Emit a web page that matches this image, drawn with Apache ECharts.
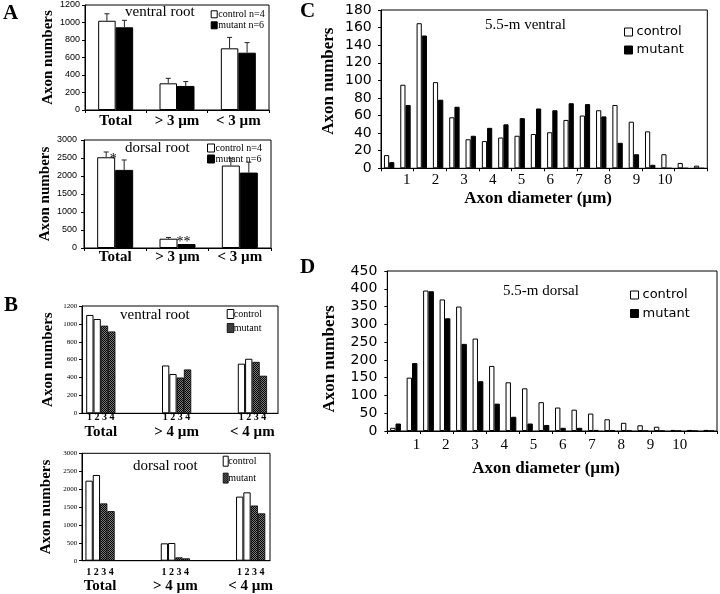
<!DOCTYPE html>
<html><head><meta charset="utf-8">
<script src="https://cdn.jsdelivr.net/npm/echarts@6/dist/echarts.min.js"></script>
<style>html,body{margin:0;padding:0;background:#fff}#c{width:720px;height:594px}</style>
</head><body><div id="c"></div>
<script>
// ---------------- DATA ----------------
const aCats = ['Total', '> 3 µm', '< 3 µm'];
const aVentralControl = [1020, 305, 705];
const aVentralControlErr = [80, 57, 125];
const aVentralMutant = [945, 275, 655];
const aVentralMutantErr = [80, 50, 115];
const aDorsalControl = [2520, 258, 2290];
const aDorsalControlErr = [147, 36, 203];
const aDorsalMutant = [2170, 110, 2095];
const aDorsalMutantErr = [275, 0, 287];
const aDorsalSig = ['*', '**', ''];

const bCats = ['Total', '> 4 µm', '< 4 µm'];
const bAnimals = ['1', '2', '3', '4'];
const bVentral1 = [1100, 535, 555];
const bVentral2 = [1055, 440, 610];
const bVentral3 = [980, 400, 575];
const bVentral4 = [915, 490, 420];
const bDorsal1 = [2235, 485, 1790];
const bDorsal2 = [2395, 495, 1910];
const bDorsal3 = [1600, 93, 1540];
const bDorsal4 = [1385, 65, 1322];

const diamBins = ['0.5','1','1.5','2','2.5','3','3.5','4','4.5','5','5.5','6','6.5','7','7.5','8','8.5','9','9.5','10'];
const diamTicks = [1, 2, 3, 4, 5, 6, 7, 8, 9, 10];
const cControl = [15, 95, 165, 98, 58, 33, 31, 35, 37, 39, 41, 55, 60, 66, 72, 53, 42, 16, 6, 3];
const cMutant  = [7, 72, 151, 78, 70, 37, 46, 50, 57, 68, 66, 74, 73, 59, 29, 16, 4, 0, 0, 0];
const dControl = [9, 150, 395, 370, 350, 260, 183, 137, 120, 81, 66, 60, 49, 33, 23, 16, 12, 3, 3, 3];
const dMutant  = [21, 191, 393, 317, 245, 140, 77, 40, 21, 17, 9, 9, 3, 2, 1, 0, 0, 0, 0, 0];

// ---------------- STYLE ----------------
const SERIF = '"Liberation Serif", "Times New Roman", serif';
const SANS = '"Liberation Sans", Arial, sans-serif';
const DJV = '"DejaVu Sans", sans-serif';
const BLACK = '#000';

function makeHatch() {
  const c = document.createElement('canvas');
  c.width = 2; c.height = 2;
  const g = c.getContext('2d');
  g.fillStyle = '#7a7a7a'; g.fillRect(0, 0, 2, 2);
  g.fillStyle = '#000'; g.fillRect(0, 0, 1, 1); g.fillRect(1, 1, 1, 1);
  return c;
}
const hatch = { image: makeHatch(), repeat: 'repeat' };

const whiteStyle = { color: '#fff', borderColor: BLACK, borderWidth: 1 };
const blackStyle = { color: '#000', borderColor: BLACK, borderWidth: 1 };
const hatchStyle = { color: hatch, borderColor: BLACK, borderWidth: 0.8 };

function grid(left, top, width, height, show) {
  return { left, top, width, height, show: !!show, borderColor: BLACK, borderWidth: 1,
           backgroundColor: 'transparent', containLabel: false, outerBoundsMode: 'none' };
}
const grids = [
  grid(85, 5, 184, 105, true),        // 0 A ventral
  grid(84, 140, 187, 108, true),      // 1 A dorsal
  grid(82, 306, 196, 107.3, true),    // 2 B ventral box
  grid(62.9, 306, 227.4, 107.3),      // 3 B ventral bars
  grid(82, 453.3, 188, 107.4, true),  // 4 B dorsal box
  grid(62.4, 453.3, 225.9, 107.4),    // 5 B dorsal bars
  grid(381, 10, 326.3, 158.3, true),  // 6 C
  grid(381, 10, 326.3, 158.3),        // 7 C diameter labels
  grid(387.3, 271, 329.7, 160, true), // 8 D
  grid(387.3, 271, 329.7, 160)        // 9 D diameter labels
];

const plain = (v) => String(v);
const yName = (size) => ({ fontFamily: SERIF, fontWeight: 'bold', fontSize: size, color: BLACK });
function valueY(gi, max, interval, labelFont, nameGap, nameSize, margin, namePad) {
  return {
    type: 'value', gridIndex: gi, min: 0, max, interval,
    axisLine: { show: true, lineStyle: { color: BLACK, width: 1 } },
    axisTick: { show: true, length: 3, lineStyle: { color: BLACK } },
    splitLine: { show: false },
    axisLabel: Object.assign({ color: BLACK, margin, formatter: plain }, labelFont),
    name: 'Axon numbers', nameLocation: 'middle', nameGap,
    nameTextStyle: Object.assign(yName(nameSize), { padding: namePad || 0 })
  };
}
function hiddenY(gi, max) { return { type: 'value', gridIndex: gi, min: 0, max, show: false }; }

const catXA = (gi, margin) => ({
  type: 'category', gridIndex: gi, data: aCats,
  axisLine: { show: true, lineStyle: { color: BLACK } },
  axisTick: { show: true, length: 3, lineStyle: { color: BLACK } },
  axisLabel: { interval: 0, margin, fontFamily: SERIF, fontWeight: 'bold', fontSize: 15, color: BLACK }
});
const boxX = (gi) => ({
  type: 'value', gridIndex: gi, min: 0, max: 1,
  axisLine: { show: true, lineStyle: { color: BLACK } },
  axisTick: { show: false }, axisLabel: { show: false }, splitLine: { show: false }
});
const barsXB = (gi, margin, catLH) => ({
  type: 'category', gridIndex: gi, data: bCats,
  axisLine: { show: false }, axisTick: { show: false }, splitLine: { show: false },
  axisLabel: {
    interval: 0, margin,
    formatter: (v) => '{n|' + bAnimals.join(' ') + '}\n{c|' + v + '}',
    rich: {
      n: { fontFamily: SERIF, fontWeight: 'bold', fontSize: 10, lineHeight: 9, color: BLACK },
      c: { fontFamily: SERIF, fontWeight: 'bold', fontSize: 15, lineHeight: catLH, color: BLACK }
    }
  }
});
const binX = (gi) => ({
  type: 'category', gridIndex: gi, data: diamBins,
  axisLine: { show: true, lineStyle: { color: BLACK } },
  axisTick: { show: true, length: 3, lineStyle: { color: BLACK } },
  axisLabel: { show: false }
});
const diamX = (gi, min, max, margin, nameGap) => ({
  type: 'value', gridIndex: gi, min, max,
  axisLine: { show: false }, axisTick: { show: false }, splitLine: { show: false },
  axisLabel: { customValues: diamTicks, margin, fontFamily: SERIF, fontSize: 15, color: BLACK },
  name: 'Axon diameter (µm)', nameLocation: 'middle', nameGap,
  nameTextStyle: { fontFamily: SERIF, fontWeight: 'bold', fontSize: 17, color: BLACK, padding: [0, 12, 0, 0] }
});

function errBars(xi, yi, vals, errs, dx) {
  return {
    type: 'custom', xAxisIndex: xi, yAxisIndex: yi, z: 3, silent: true,
    data: vals.map((v, i) => [i, v, v + errs[i]]),
    encode: { x: 0, y: [1, 2] },
    renderItem: (params, api) => {
      const base = api.coord([api.value(0), api.value(1)]);
      const top = api.coord([api.value(0), api.value(2)]);
      if (Math.abs(base[1] - top[1]) < 0.5) return null;
      const x = base[0] + dx;
      const st = { stroke: '#222', lineWidth: 1 };
      return { type: 'group', children: [
        { type: 'line', shape: { x1: x, y1: base[1], x2: x, y2: top[1] }, style: st },
        { type: 'line', shape: { x1: x - 2.5, y1: top[1], x2: x + 2.5, y2: top[1] }, style: st }
      ] };
    }
  };
}
const sigOffsets = [[-11, 0], [-3, 9], [0, 0]];

function bar(name, xi, yi, data, width, style) {
  return { type: 'bar', name, xAxisIndex: xi, yAxisIndex: yi, data, barWidth: width, barGap: '0%',
           itemStyle: style, silent: true };
}

const legendText = (font, size, lh, pad) => ({ fontFamily: font, fontSize: size, lineHeight: lh, color: BLACK, padding: pad });
const stripPrefix = (n) => n.replace(/^[A-D]:/, '');
function legend(names, styles, left, top, iw, ih, gap, textStyle) {
  return {
    orient: 'vertical', left, top, padding: 0, itemWidth: iw, itemHeight: ih, itemGap: gap,
    icon: 'rect', selectedMode: false, formatter: stripPrefix, textStyle,
    data: names.map((n, i) => ({ name: n, icon: 'rect', itemStyle: styles[i] }))
  };
}

const titleStyle = (size, bold) => ({ fontFamily: SERIF, fontSize: size, fontWeight: bold ? 'bold' : 'normal', color: BLACK });
const title = (text, left, top, size, bold) => ({ text, left, top, padding: 0, textStyle: titleStyle(size, bold) });

const option = {
  animation: false,
  backgroundColor: '#fff',
  grid: grids,
  title: [
    title('A', 3, 3, 21, true),
    title('B', 4, 295, 21, true),
    title('C', 300, 1, 21, true),
    title('D', 300, 257, 21, true),
    title('ventral root', 125, 5, 15),
    title('dorsal root', 125, 141, 15),
    title('ventral root', 120, 308, 15),
    title('dorsal root', 133, 459, 15),
    title('5.5-m ventral', 485, 18, 15),
    title('5.5-m dorsal', 503, 284, 15)
  ],
  legend: [
    legend(['A:control n=4', 'A:mutant n=6'], [whiteStyle, blackStyle], 210.7, 9.3, 6, 7, 1, legendText(SERIF, 10, 10, [0, 0, 0, -4])),
    legend(['A:control n=4', 'A:mutant n=6'], [whiteStyle, blackStyle], 207, 143, 7, 8, 1, legendText(SERIF, 10, 10, [0, 0, 0, -4])),
    legend(['B:control', 'B:mutant'], [whiteStyle, hatchStyle], 226.7, 309, 6.6, 9, 4, legendText(SERIF, 10, 10, [0, 0, 0, -5])),
    legend(['B:control', 'B:mutant'], [whiteStyle, hatchStyle], 222.7, 455.7, 5, 10, 6, legendText(SERIF, 10, 10, [0, 0, 0, -5])),
    legend(['C:control', 'C:mutant'], [whiteStyle, blackStyle], 624, 25, 8, 8, 4, legendText(DJV, 13, 14, [0, 0, 0, -1])),
    legend(['D:control', 'D:mutant'], [whiteStyle, blackStyle], 630, 288, 8, 8, 4.5, legendText(DJV, 13, 14, [0, 0, 0, -1]))
  ],
  xAxis: [
    catXA(0, 4),
    catXA(1, 2),
    boxX(2),
    barsXB(3, 0, 20),
    boxX(4),
    barsXB(5, 7, 18),
    binX(6),
    diamX(7, 0.105, 11.47, 4, 22),
    binX(8),
    diamX(9, 0, 11.27, 6.5, 29)
  ],
  yAxis: [
    valueY(0, 1200, 200, { fontFamily: SANS, fontSize: 9 }, 24, 15, 5),
    valueY(1, 3000, 500, { fontFamily: SANS, fontSize: 9 }, 23, 15, 7),
    valueY(2, 1200, 200, { fontFamily: SERIF, fontSize: 7 }, 26, 15, 4.7),
    hiddenY(3, 1200),
    valueY(4, 3000, 500, { fontFamily: SERIF, fontSize: 7 }, 28, 15, 4.7),
    hiddenY(5, 3000),
    valueY(6, 180, 20, { fontFamily: DJV, fontSize: 14 }, 44, 17, 9.3, [0, 0, 0, 16]),
    hiddenY(7, 180),
    valueY(8, 450, 50, { fontFamily: DJV, fontSize: 14 }, 49, 17, 10, [0, 16, 0, 0]),
    hiddenY(9, 450)
  ],
  series: [
    // A ventral
    bar('A:control n=4', 0, 0, aVentralControl, 17.5, whiteStyle),
    bar('A:mutant n=6', 0, 0, aVentralMutant, 17.5, blackStyle),
    errBars(0, 0, aVentralControl, aVentralControlErr, -8.75),
    errBars(0, 0, aVentralMutant, aVentralMutantErr, 8.75),
    // A dorsal
    bar('A:control n=4', 1, 1, aDorsalControl, 18, whiteStyle),
    bar('A:mutant n=6', 1, 1, aDorsalMutant.map((v, i) => ({
      value: v,
      label: { show: !!aDorsalSig[i], formatter: aDorsalSig[i], position: 'top', distance: 4,
               offset: sigOffsets[i], fontFamily: SERIF, fontSize: 14, color: BLACK }
    })), 18, blackStyle),
    errBars(1, 1, aDorsalControl, aDorsalControlErr, -9),
    errBars(1, 1, aDorsalMutant, aDorsalMutantErr, 9),
    // B ventral
    bar('B:control', 3, 3, bVentral1, 7.3, whiteStyle),
    bar('B:control', 3, 3, bVentral2, 7.3, whiteStyle),
    bar('B:mutant', 3, 3, bVentral3, 7.3, hatchStyle),
    bar('B:mutant', 3, 3, bVentral4, 7.3, hatchStyle),
    // B dorsal
    bar('B:control', 5, 5, bDorsal1, 7.3, whiteStyle),
    bar('B:control', 5, 5, bDorsal2, 7.3, whiteStyle),
    bar('B:mutant', 5, 5, bDorsal3, 7.3, hatchStyle),
    bar('B:mutant', 5, 5, bDorsal4, 7.3, hatchStyle),
    // C
    bar('C:control', 6, 6, cControl, 5.2, whiteStyle),
    bar('C:mutant', 6, 6, cMutant, 5.2, blackStyle),
    // D
    bar('D:control', 8, 8, dControl, 5.4, whiteStyle),
    bar('D:mutant', 8, 8, dMutant, 5.4, blackStyle)
  ]
};

const chart = echarts.init(document.getElementById('c'), null, { renderer: 'canvas' });
chart.setOption(option);
</script>
</body></html>
